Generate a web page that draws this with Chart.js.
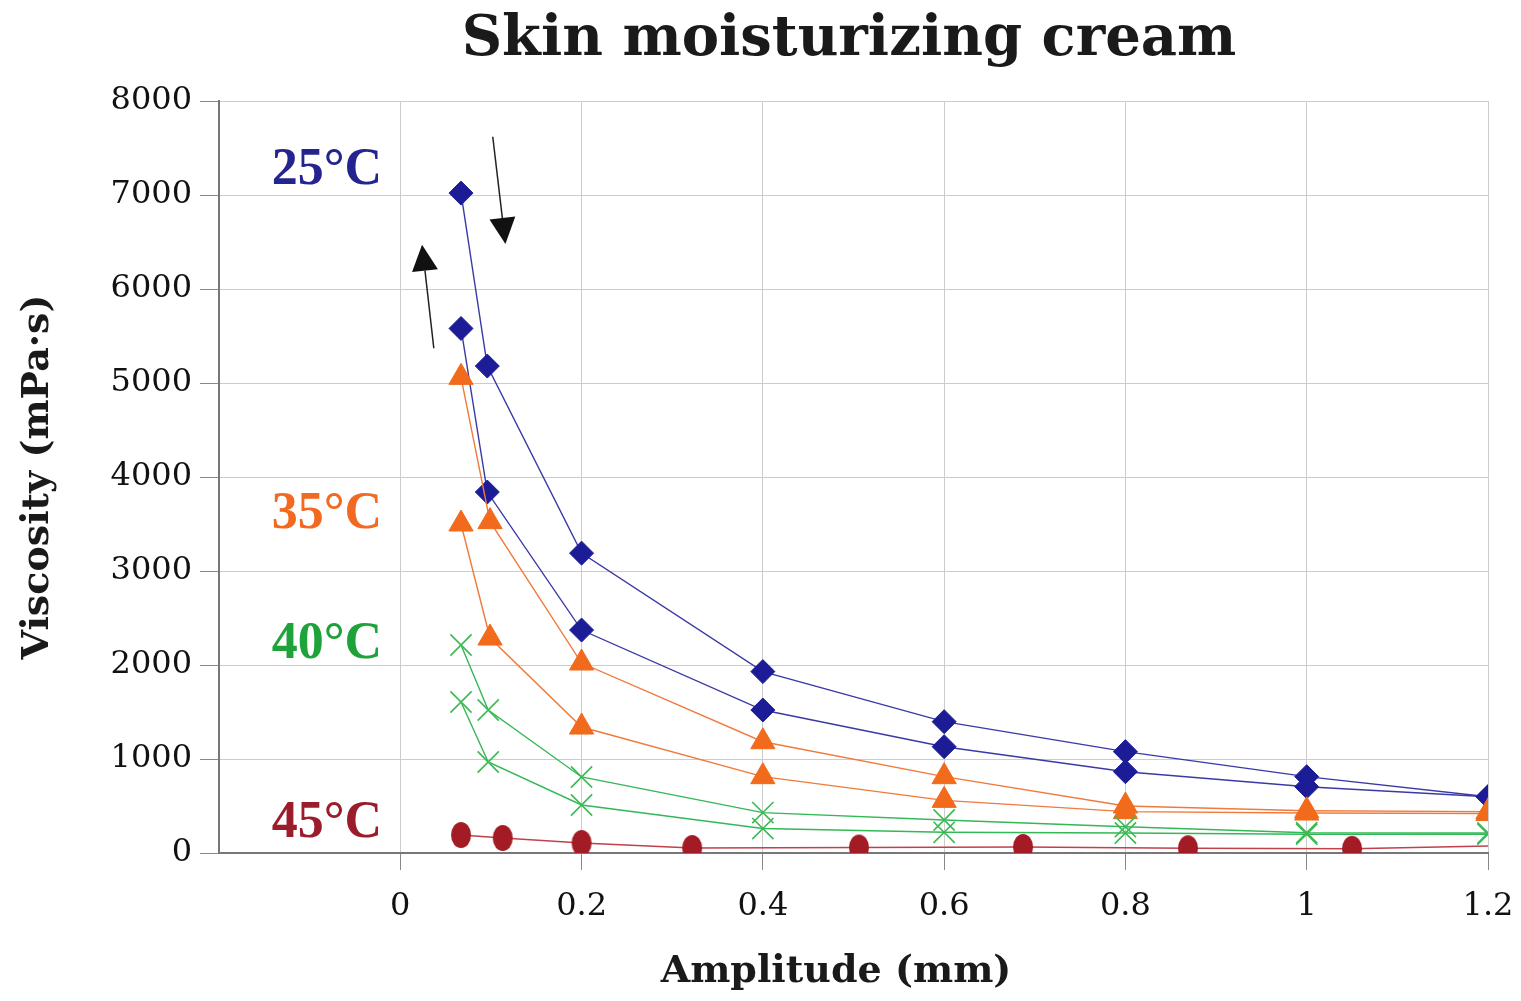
<!DOCTYPE html>
<html>
<head>
<meta charset="utf-8">
<script src="https://cdn.jsdelivr.net/npm/chart.js@4"></script>
<style>
  html,body{margin:0;padding:0;background:#fff;}
  #wrap{width:1521px;height:1001px;}
</style>
</head>
<body>
<div id="wrap"><canvas id="chart" width="1521" height="1001"></canvas></div>
<script>
// Amplitude (mm) per series
const amp25 = [0.067, 0.096, 0.2, 0.4, 0.6, 0.8, 1.0, 1.2];
const amp35 = [0.067, 0.099, 0.2, 0.4, 0.6, 0.8, 1.0, 1.2];
const amp40 = [0.067, 0.097, 0.2, 0.4, 0.6, 0.8, 1.0, 1.2];
const amp45 = [0.067, 0.113, 0.2, 0.322, 0.506, 0.687, 0.869, 1.05, 1.2];

// Viscosity (mPa·s), two sweeps per temperature
const visc25a = [7020, 5180, 3190, 1930, 1397, 1078, 812, 599];
const visc25b = [5580, 3840, 2372, 1521, 1131, 865, 705, 599];
const visc35a = [5060, 3525, 2021, 1184, 812, 500, 450, 440];
const visc35b = [3500, 2287, 1340, 812, 560, 440, 425, 420];
const visc40a = [2213, 1521, 809, 430, 351, 280, 215, 213];
const visc40b = [1606, 968, 511, 260, 220, 213, 200, 200];
const visc45  = [191, 160, 106, 53, 58, 64, 50, 45, 75];

// Temperature labels and sweep-direction arrows, in data coordinates
const tempLabels = [
  {text:'25°C', x:-0.02, y:7260, color:'#24248f'},
  {text:'35°C', x:-0.02, y:3600, color:'#f26a21'},
  {text:'40°C', x:-0.02, y:2220, color:'#1ea23a'},
  {text:'45°C', x:-0.02, y:310,  color:'#9b1c2a'}
];
const arrows = [
  {from:[0.102, 7620], to:[0.116, 6480]},
  {from:[0.037, 5370], to:[0.024, 6470]}
];

const toPts = (xs, ys) => xs.map((x,i)=>({x, y:ys[i]}));

// tall ellipse marker for the 45°C series
const ellipse = document.createElement('canvas');
ellipse.width = 22; ellipse.height = 28;
{
  const c = ellipse.getContext('2d');
  c.fillStyle = '#a31b24';
  c.beginPath(); c.ellipse(11,14,10,13,0,0,Math.PI*2); c.fill();
}

const SERIF = '"DejaVu Serif", serif';

const decor = {
  id:'decor',
  afterDraw(chart){
    const {ctx, scales:{x, y}} = chart;
    ctx.save();
    // title
    ctx.fillStyle = '#1a1a1a';
    ctx.font = 'bold 56px ' + SERIF;
    ctx.textAlign = 'center'; ctx.textBaseline = 'middle';
    ctx.fillText('Skin moisturizing cream', 849, 40);
    // x axis title (drawn here to match its off-centre position)
    ctx.font = 'bold 38px ' + SERIF;
    ctx.fillText('Amplitude (mm)', 836, 972);
    // temperature labels
    ctx.font = 'bold 52px "Liberation Serif", serif';
    ctx.textAlign = 'right';
    tempLabels.forEach(l=>{
      ctx.fillStyle = l.color;
      ctx.fillText(l.text, x.getPixelForValue(l.x), y.getPixelForValue(l.y));
    });
    // arrows
    ctx.strokeStyle = '#222'; ctx.fillStyle = '#111'; ctx.lineWidth = 1.5;
    arrows.forEach(a=>{
      const x0 = x.getPixelForValue(a.from[0]), y0 = y.getPixelForValue(a.from[1]);
      const x1 = x.getPixelForValue(a.to[0]),   y1 = y.getPixelForValue(a.to[1]);
      const ang = Math.atan2(y1-y0, x1-x0);
      const len = 26, half = 13;
      const bx = x1 - Math.cos(ang)*len, by = y1 - Math.sin(ang)*len;
      ctx.beginPath(); ctx.moveTo(x0,y0); ctx.lineTo(bx,by); ctx.stroke();
      ctx.beginPath();
      ctx.moveTo(x1,y1);
      ctx.lineTo(bx + Math.sin(ang)*half, by - Math.cos(ang)*half);
      ctx.lineTo(bx - Math.sin(ang)*half, by + Math.cos(ang)*half);
      ctx.closePath(); ctx.fill();
    });
    ctx.restore();
  }
};

const line = (data, color, fill, style, radius, extra={}) => Object.assign({
  data, borderColor:color, backgroundColor:fill, pointBackgroundColor:fill,
  pointBorderColor:fill, pointStyle:style, pointRadius:radius, pointHoverRadius:radius,
  borderWidth:1.4, pointBorderWidth:1, tension:0, showLine:true
}, extra);

new Chart(document.getElementById('chart'), {
  type:'scatter',
  data:{
    datasets:[
      line(toPts(amp45, visc45), '#c0414a', '#a31b24', ellipse, 10,
        {pointRadius: amp45.map((_,i)=> i===amp45.length-1 ? 0 : 10)}),
      line(toPts(amp40, visc40a), '#33b857', '#3cba54', 'crossRot', 15, {pointBorderWidth:1.6}),
      line(toPts(amp40, visc40b), '#33b857', '#3cba54', 'crossRot', 15, {pointBorderWidth:1.6}),
      line(toPts(amp35, visc35a), '#f07a3c', '#f26a1b', 'triangle', 14),
      line(toPts(amp35, visc35b), '#f07a3c', '#f26a1b', 'triangle', 14),
      line(toPts(amp25, visc25a), '#3a3aa6', '#1c1c96', 'rectRot', 12),
      line(toPts(amp25, visc25b), '#3a3aa6', '#1c1c96', 'rectRot', 12)
    ]
  },
  options:{
    responsive:false,
    animation:false,
    layout:{padding:{top:101, right:33, left:0, bottom:0}},
    plugins:{legend:{display:false}, tooltip:{enabled:false}},
    scales:{
      x:{
        type:'linear', min:-0.2, max:1.2,
        afterFit:s=>{ s.height = 148; s.paddingLeft = 0; s.paddingRight = 0; },
        ticks:{
          stepSize:0.2, color:'#111', padding:17,
          font:{family:SERIF, size:32},
          callback:v=> v < -0.01 ? '' : String(+v.toFixed(1))
        },
        grid:{
          color:'#cccccc', lineWidth:1, tickLength:17,
          tickColor:c=> (c.tick && c.tick.value < -0.01) ? 'rgba(0,0,0,0)' : '#888'
        },
        border:{display:true, color:'#777', width:2}
      },
      y:{
        type:'linear', min:0, max:8000,
        afterFit:s=>{ s.width = 219; },
        ticks:{
          stepSize:1000, color:'#111', padding:8,
          font:{family:SERIF, size:32},
          callback:v=> String(v)
        },
        grid:{color:'#cccccc', lineWidth:1, tickLength:19, tickColor:'#888'},
        border:{display:true, color:'#777', width:2},
        title:{display:true, text:'Viscosity (mPa·s)', color:'#1a1a1a',
          font:{family:SERIF, size:38, weight:'bold'}, padding:{top:15, bottom:0}}
      }
    }
  },
  plugins:[decor]
});
</script>
</body>
</html>
